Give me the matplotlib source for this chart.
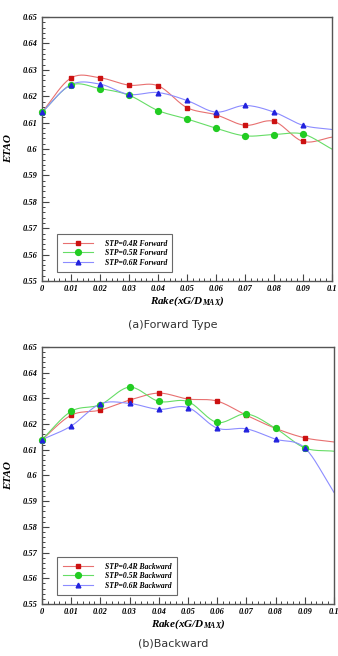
import matplotlib.pyplot as plt
import numpy as np
from matplotlib.ticker import MultipleLocator

rake = [0, 0.01, 0.02, 0.03, 0.04, 0.05, 0.06, 0.07, 0.08, 0.09, 0.1]

fwd_04 = [0.6139, 0.6269, 0.6270, 0.6242, 0.6240, 0.6157, 0.6130, 0.6090, 0.6105, 0.6029, 0.6045]
fwd_05 = [0.6139, 0.6242, 0.6229, 0.6204, 0.6146, 0.6114, 0.6079, 0.6050, 0.6055, 0.6057, 0.6000]
fwd_06 = [0.6139, 0.6244, 0.6246, 0.6207, 0.6214, 0.6184, 0.6140, 0.6165, 0.6140, 0.6090, 0.6074]

bwd_04 = [0.6139, 0.6234, 0.6254, 0.6293, 0.6320, 0.6297, 0.6289, 0.6234, 0.6183, 0.6146, 0.6130]
bwd_05 = [0.6139, 0.6249, 0.6275, 0.6343, 0.6288, 0.6287, 0.6206, 0.6239, 0.6183, 0.6107, 0.6094]
bwd_06 = [0.6139, 0.6192, 0.6278, 0.6280, 0.6257, 0.6264, 0.6184, 0.6181, 0.6141, 0.6107, 0.5934]

styles = [
    ('#e87070', '#cc1111', 's', 3.4),
    ('#66dd66', '#22cc22', 'o', 4.2),
    ('#8c8cff', '#2222dd', '^', 3.4),
]

serif = ['Liberation Serif', 'DejaVu Serif']
plt.rcParams['mathtext.fontset'] = 'custom'
plt.rcParams['mathtext.rm'] = 'Liberation Serif:bold:italic'
plt.rcParams['mathtext.it'] = 'Liberation Serif:bold:italic'


def smooth(x, y, n=20):
    # catmull-rom curve through the points, only for drawing the line
    x = np.asarray(x, float)
    y = np.asarray(y, float)
    px = np.concatenate([[2 * x[0] - x[1]], x, [2 * x[-1] - x[-2]]])
    py = np.concatenate([[2 * y[0] - y[1]], y, [2 * y[-1] - y[-2]]])
    t = np.linspace(0, 1, n, endpoint=False)
    xs, ys = [], []
    for i in range(1, len(px) - 2):
        for p, out in ((px, xs), (py, ys)):
            p0, p1, p2, p3 = p[i - 1], p[i], p[i + 1], p[i + 2]
            out.append(0.5 * (2 * p1 + (-p0 + p2) * t
                              + (2 * p0 - 5 * p1 + 4 * p2 - p3) * t ** 2
                              + (-p0 + 3 * p1 - 3 * p2 + p3) * t ** 3))
    xs.append([x[-1]])
    ys.append([y[-1]])
    return np.concatenate(xs), np.concatenate(ys)


def panel(ax, series, labels):
    for ys, lab, (lc, mc, mk, ms) in zip(series, labels, styles):
        sx, sy = smooth(rake, ys)
        ax.plot(sx, sy, color=lc, lw=0.8, clip_on=True)
        ax.plot(rake[:-1], ys[:-1], ls='none', marker=mk, ms=ms, color=mc,
                clip_on=False, zorder=3)
        ax.plot([], [], color=lc, lw=0.8, marker=mk, ms=ms, mfc=mc, mec=mc,
                label=lab)
    ax.set_xlim(0, 0.1)
    ax.set_ylim(0.55, 0.65)
    ax.xaxis.set_major_locator(MultipleLocator(0.01))
    ax.xaxis.set_minor_locator(MultipleLocator(0.002))
    ax.yaxis.set_major_locator(MultipleLocator(0.01))
    ax.yaxis.set_minor_locator(MultipleLocator(0.002))
    ax.set_xticklabels(['%g' % round(v, 2) for v in ax.get_xticks()])
    ax.set_yticklabels(['%g' % round(v, 2) for v in ax.get_yticks()])
    ax.tick_params(which='both', direction='in', top=False, right=False,
                   labelsize=6, pad=3, colors='#444444')
    ax.tick_params(which='major', length=5, width=0.8)
    ax.tick_params(which='minor', length=2.5, width=0.7)
    for lbl in ax.get_xticklabels() + ax.get_yticklabels():
        lbl.set_fontfamily(serif)
        lbl.set_fontweight('bold')
        lbl.set_fontstyle('italic')
        lbl.set_color('black')
    for s in ax.spines.values():
        s.set_color('#555555')
        s.set_linewidth(1.0)
    ax.set_xlabel(r'Rake(xG/D$_{\mathrm{MAX}}$)', fontfamily=serif,
                  fontweight='bold', fontstyle='italic', fontsize=8, labelpad=1)
    ax.set_ylabel('ETAO', fontfamily=serif, fontweight='bold',
                  fontstyle='italic', fontsize=8, labelpad=7)
    leg = ax.legend(loc='lower left', bbox_to_anchor=(0.04, 0.02),
                    prop={'family': serif, 'weight': 'bold', 'style': 'italic',
                          'size': 5.5}, fancybox=False, frameon=True,
                    handlelength=4, borderpad=0.7, labelspacing=0.2,
                    handletextpad=1.5)
    leg.get_frame().set_edgecolor('#444444')
    leg.get_frame().set_linewidth(0.8)


fig = plt.figure(figsize=(3.38, 6.56), dpi=100)
ax1 = fig.add_axes([0.124, 0.5716, 0.858, 0.4024])
ax2 = fig.add_axes([0.124, 0.0793, 0.864, 0.392])

panel(ax1, [fwd_04, fwd_05, fwd_06],
      ['STP=0.4R Forward', 'STP=0.5R Forward', 'STP=0.6R Forward'])
panel(ax2, [bwd_04, bwd_05, bwd_06],
      ['STP=0.4R Backward', 'STP=0.5R Backward', 'STP=0.6R Backward'])

fig.text(0.512, 1 - 325 / 656, '(a)Forward Type', ha='center', va='center',
         fontsize=8, color='#333333')
fig.text(0.512, 1 - 644 / 656, '(b)Backward', ha='center', va='center',
         fontsize=8, color='#333333')

fig.savefig('out.png', dpi=100)
